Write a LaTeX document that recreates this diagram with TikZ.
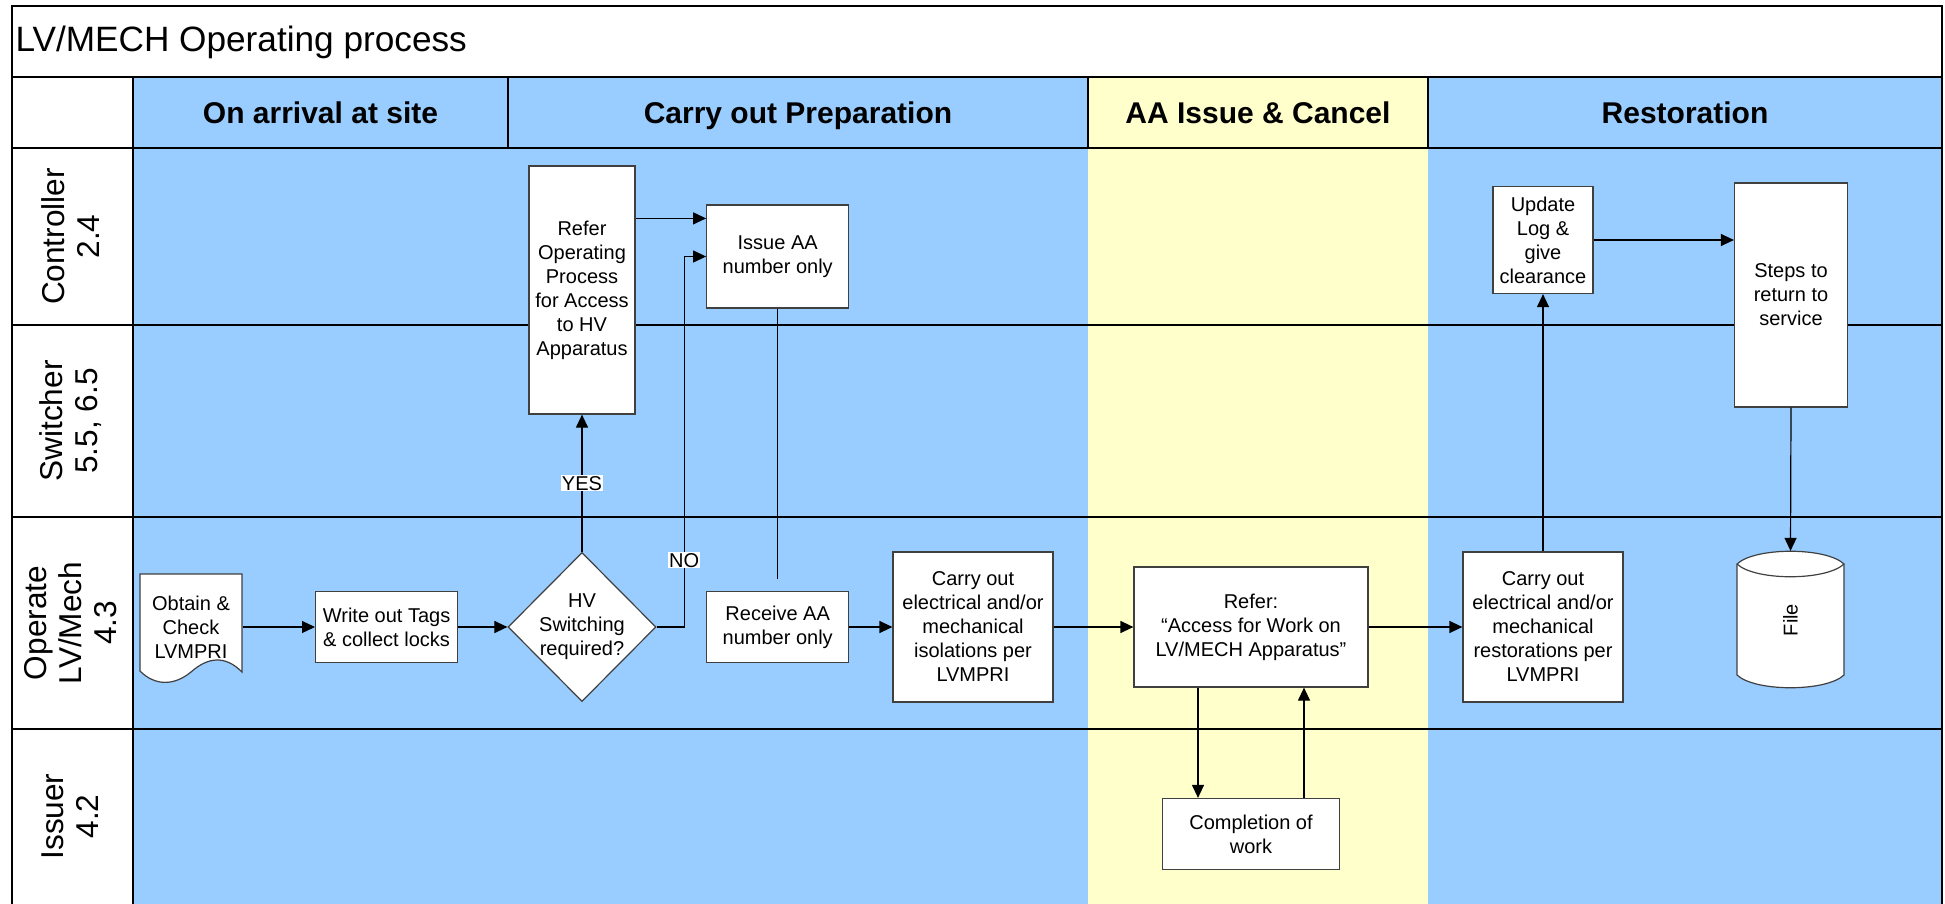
\documentclass[tikz,border=0pt]{standalone}
\usepackage{fontspec}
\setmainfont{Liberation Sans}
\usepackage{tikz}
\usepackage{xcolor}
\usetikzlibrary{shapes.geometric,arrows.meta}
\definecolor{laneblue}{HTML}{99CCFF}
\definecolor{laneyellow}{HTML}{FFFFCC}

\begin{document}
\begin{tikzpicture}[x=0.5pt,y=-0.5pt,line width=0.6pt,
txt/.style={font=\fontsize{10}{12}\selectfont},
box/.style={rectangle,draw=black!75,fill=white,align=center,inner sep=1pt,txt},
arr/.style={-{Triangle[length=6.5pt,width=6pt]}},
lbl/.style={fill=white,inner sep=0.5pt,txt},
lane/.style={rotate=90,align=center,font=\fontsize{15.8}{17.6}\selectfont},
phase/.style={anchor=base,font=\bfseries\fontsize{15}{18}\selectfont}]
 \useasboundingbox (0,0) rectangle (1945,904);
 % swim lanes
 \fill[laneblue] (133,77) rectangle (1088,904);
 \fill[laneyellow] (1088,77) rectangle (1428,904);
 \fill[laneblue] (1428,77) rectangle (1942,904);
 \draw (12,904) -- (12,6) -- (1942,6) -- (1942,904);
 \foreach \y in {77,148,325,517,729} \draw (12,\y) -- (1942,\y);
 \draw (133,77) -- (133,904);
 \foreach \x in {508,1088,1428} \draw (\x,77) -- (\x,148);
 \node[anchor=west,inner sep=0pt,font=\fontsize{17.6}{20}\selectfont] (title) at (15,42)
 {LV/MECH Operating process};
 \foreach \x/\t [count=\i] in {320.5/On arrival at site,798/Carry out Preparation,
    1258/AA Issue \& Cancel,1685/Restoration}
    \node[phase] (ph\i) at (\x,123.5) {\t};
 \foreach \y/\t [count=\i] in {236.5/{Controller\\2.4},421/{Switcher\\5.5, 6.5},
    623/{Operate\\LV/Mech\\4.3},816.5/{Issuer\\4.2}}
    \node[lane] (role\i) at (70.5,\y) {\t};
 % steps
 \draw[draw=black!75,fill=white] (140,574) -- (242,574) -- (242,672)
 .. controls (225,655) and (208,657) .. (191,672)
 .. controls (174,686) and (155,686) .. (140,671) -- cycle;
 \node[align=center,inner sep=0pt,minimum width=51pt,minimum height=53pt,txt] (obtain) at (191,627)
 {Obtain \&\\Check\\LVMPRI};
 \node[box,minimum width=71pt,minimum height=35.5pt] (write) at (386.6,627) {Write out Tags\\\& collect locks};
 \node[diamond,draw=black!75,fill=white,inner sep=0pt,minimum width=74pt,minimum height=74.5pt,
 label={[txt,align=center]center:HV\\Switching\\required?}] (hv) at (582,627) {};
 \node[box,minimum width=53pt,minimum height=124pt] (refer) at (582,290)
 {Refer\\Operating\\Process\\for Access\\to HV\\Apparatus};
 \node[box,minimum width=71pt,minimum height=51.5pt] (issue) at (777.7,256.5) {Issue AA\\number only};
 \node[box,minimum width=71pt,minimum height=35.5pt] (receive) at (777.7,627) {Receive AA\\number only};
 \node[box,minimum width=80pt,minimum height=75pt] (carryiso) at (973,627)
 {Carry out\\electrical and/or\\mechanical\\isolations per\\LVMPRI};
 \node[box,minimum width=117pt,minimum height=60pt] (referacc) at (1251,627)
 {Refer:\\“Access for Work on\\LV/MECH Apparatus”};
 \node[box,minimum width=88.5pt,minimum height=35.5pt] (completion) at (1251,834) {Completion of\\work};
 \node[box,minimum width=80pt,minimum height=75pt] (restore) at (1543,627)
 {Carry out\\electrical and/or\\mechanical\\restorations per\\LVMPRI};
 \node[box,minimum width=50pt,minimum height=53.5pt] (update) at (1543,240) {Update\\Log \&\\give\\clearance};
 \node[box,minimum width=56.5pt,minimum height=112pt] (steps) at (1791,295) {Steps to\\return to\\service};
 % file store
 \draw[draw=black!75,fill=white] (1737,564) -- (1737,675)
 .. controls (1755,692) and (1826,692) .. (1844,675) -- (1844,564)
 .. controls (1826,547) and (1755,547) .. (1737,564) -- cycle;
 \draw[draw=black!75] (1737,564) .. controls (1755,581) and (1826,581) .. (1844,564);
 \node[rotate=90,inner sep=0pt,minimum width=68.5pt,minimum height=53.5pt,txt] (file) at (1790.5,620) {File};
 % connectors
 \coordinate (rin) at ([yshift=-7pt]issue.north west);
 \draw[arr] (obtain.east |- write.west) -- (write.west);
 \draw[arr] (write) -- (hv);
 \draw[arr] (hv) -- node[lbl] {YES} (refer);
 \draw[arr] (hv.east) -- ++(27.5,0) |- node[lbl,pos=0.09] {NO} (issue.west);
 \draw[arr] (refer.east |- rin) -- (rin);
 \draw[shorten >=6pt] (issue) -- (receive);
 \draw[arr] (receive) -- (carryiso);
 \draw[arr] (carryiso) -- (referacc);
 \draw[arr] ([xshift=-26.5pt]referacc.south) -- ([xshift=-26.5pt]completion.north);
 \draw[arr] ([xshift=26.5pt]completion.north) -- ([xshift=26.5pt]referacc.south);
 \draw[arr] (referacc) -- (restore);
 \draw[arr] (restore) -- (update);
 \draw[arr] (update.east) -- (update.east -| steps.west);
 \draw[arr] (steps.south) -- (file.east);
\end{tikzpicture}
\end{document}
